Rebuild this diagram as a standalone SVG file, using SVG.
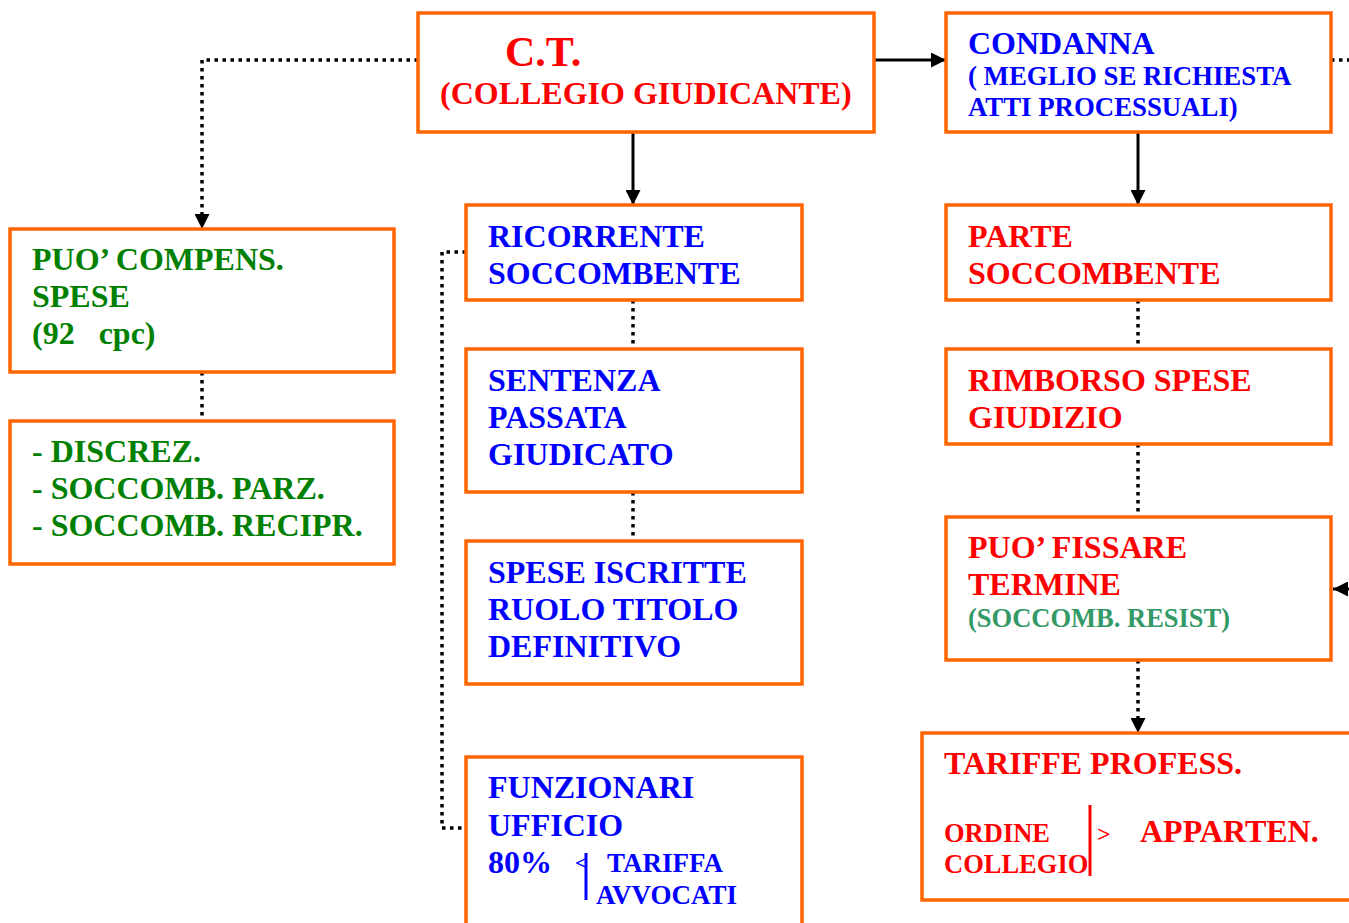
<svg xmlns="http://www.w3.org/2000/svg" width="1349" height="923" viewBox="0 0 1349 923">
  <style>
    .box { fill: #FFFFFF; stroke: #FF6600; stroke-width: 3.5; }
    text { font-family: "Liberation Serif", "Times New Roman", serif; font-weight: bold; }
    .b { fill: #0000FF; font-size: 32px; }
    .r { fill: #FF0000; font-size: 32px; }
    .g { fill: #008000; font-size: 32px; }
    .sg { fill: #339966; font-size: 26.5px; }
    .solid { fill: none; stroke: #000000; stroke-width: 3; }
    .dot { fill: none; stroke: #000000; stroke-width: 3.5; stroke-dasharray: 3.5 4.5; }
  </style>
  <defs>
    <marker id="arrow" viewBox="0 0 12 12" refX="12" refY="6" markerWidth="15" markerHeight="15" markerUnits="userSpaceOnUse" orient="auto">
      <path d="M0,0 L12,6 L0,12 z" fill="#000000"/>
    </marker>
  </defs>
  <rect width="1349" height="923" fill="#FFFFFF"/>

  <g id="connectors">
    <path class="dot" d="M418,60 H202 V229" marker-end="url(#arrow)"/>
    <path class="solid" d="M874,60 H946" marker-end="url(#arrow)"/>
    <path class="dot" d="M1331,60 H1349"/>
    <path class="solid" d="M633,132 V205" marker-end="url(#arrow)"/>
    <path class="solid" d="M1138,132 V205" marker-end="url(#arrow)"/>
    <path class="dot" d="M633,300 V349"/>
    <path class="dot" d="M633,492 V541"/>
    <path class="dot" d="M466,252 H442 V828 H466"/>
    <path class="dot" d="M202,372 V421"/>
    <path class="dot" d="M1138,300 V349"/>
    <path class="dot" d="M1138,444 V517"/>
    <path class="dot" d="M1138,660 V733" marker-end="url(#arrow)"/>
    <path class="solid" d="M1349,589 H1333" marker-end="url(#arrow)"/>
  </g>

  <g id="ct">
    <rect class="box" x="418" y="13" width="456" height="119"/>
    <text x="505" y="66" fill="#FF0000" font-size="42">C.T.</text>
    <text x="440" y="104" fill="#FF0000" font-size="32">(COLLEGIO GIUDICANTE)</text>
  </g>

  <g id="condanna">
    <rect class="box" x="946" y="13" width="385" height="119"/>
    <text x="968" y="54" class="b">CONDANNA</text>
    <text x="968" y="85" fill="#0000FF" font-size="26.8">( MEGLIO SE RICHIESTA</text>
    <text x="968" y="116" fill="#0000FF" font-size="26.8">ATTI PROCESSUALI)</text>
  </g>

  <g id="compens">
    <rect class="box" x="10" y="229" width="384" height="143"/>
    <text x="32" y="270" class="g">PUO’ COMPENS.</text>
    <text x="32" y="307" class="g">SPESE</text>
    <text x="32" y="344" class="g" xml:space="preserve">(92   cpc)</text>
  </g>

  <g id="discrez">
    <rect class="box" x="10" y="421" width="384" height="143"/>
    <text x="32" y="462" class="g">- DISCREZ.</text>
    <text x="32" y="499" class="g">- SOCCOMB. PARZ.</text>
    <text x="32" y="536" class="g">- SOCCOMB. RECIPR.</text>
  </g>

  <g id="ricorrente">
    <rect class="box" x="466" y="205" width="336" height="95"/>
    <text x="488" y="247" class="b">RICORRENTE</text>
    <text x="488" y="284" class="b">SOCCOMBENTE</text>
  </g>

  <g id="sentenza">
    <rect class="box" x="466" y="349" width="336" height="143"/>
    <text x="488" y="391" class="b">SENTENZA</text>
    <text x="488" y="428" class="b">PASSATA</text>
    <text x="488" y="465" class="b">GIUDICATO</text>
  </g>

  <g id="spese-iscritte">
    <rect class="box" x="466" y="541" width="336" height="143"/>
    <text x="488" y="583" class="b">SPESE ISCRITTE</text>
    <text x="488" y="620" class="b">RUOLO TITOLO</text>
    <text x="488" y="657" class="b">DEFINITIVO</text>
  </g>

  <g id="funzionari">
    <rect class="box" x="466" y="757" width="336" height="180"/>
    <text x="488" y="798" class="b">FUNZIONARI</text>
    <text x="488" y="836" class="b">UFFICIO</text>
    <text x="488" y="873" class="b">80%</text>
    <text x="575" y="870" fill="#0000FF" font-size="22">&lt;</text>
    <line x1="586" y1="853" x2="586" y2="900" stroke="#0000FF" stroke-width="3"/>
    <text x="607" y="872" fill="#0000FF" font-size="27">TARIFFA</text>
    <text x="596" y="904" fill="#0000FF" font-size="27">AVVOCATI</text>
  </g>

  <g id="parte">
    <rect class="box" x="946" y="205" width="385" height="95"/>
    <text x="968" y="247" class="r">PARTE</text>
    <text x="968" y="284" class="r">SOCCOMBENTE</text>
  </g>

  <g id="rimborso">
    <rect class="box" x="946" y="349" width="385" height="95"/>
    <text x="968" y="391" class="r">RIMBORSO SPESE</text>
    <text x="968" y="428" class="r">GIUDIZIO</text>
  </g>

  <g id="fissare">
    <rect class="box" x="946" y="517" width="385" height="143"/>
    <text x="968" y="558" class="r">PUO’ FISSARE</text>
    <text x="968" y="595" class="r">TERMINE</text>
    <text x="968" y="627" class="sg">(SOCCOMB. RESIST)</text>
  </g>

  <g id="tariffe">
    <rect class="box" x="922" y="733" width="440" height="167"/>
    <text x="944" y="774" class="r">TARIFFE PROFESS.</text>
    <text x="944" y="842" fill="#FF0000" font-size="26.5">ORDINE</text>
    <text x="944" y="873" fill="#FF0000" font-size="26.5">COLLEGIO</text>
    <line x1="1090" y1="805" x2="1090" y2="876" stroke="#FF0000" stroke-width="3"/>
    <text x="1097" y="842" fill="#FF0000" font-size="24" font-weight="normal">&gt;</text>
    <text x="1140" y="842" class="r">APPARTEN.</text>
  </g>
</svg>
